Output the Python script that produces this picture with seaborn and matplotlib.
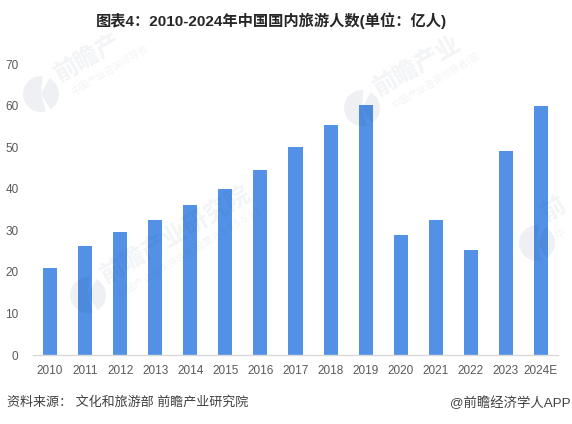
import matplotlib
matplotlib.use("Agg")
import matplotlib.pyplot as plt
import pandas as pd
import seaborn as sns
from matplotlib.patches import Wedge

years = ["2010", "2011", "2012", "2013", "2014", "2015", "2016", "2017",
         "2018", "2019", "2020", "2021", "2022", "2023", "2024E"]
visitors = [21.0, 26.2, 29.5, 32.5, 36.0, 40.0, 44.4, 50.0,
            55.4, 60.1, 28.8, 32.4, 25.3, 49.0, 60.0]
y_ticks = [0, 10, 20, 30, 40, 50, 60, 70]

title = "图表4：2010-2024年中国国内旅游人数(单位：亿人)"
source = "资料来源： 文化和旅游部 前瞻产业研究院"
credit = "@前瞻经济学人APP"

W, H = 572, 424
BAR = "#5291E6"
TICK = "#595959"
MARK = "#1F3864"
FONTS = ["Liberation Sans", "Noto Sans CJK SC"]

sns.set_theme(style="white")
plt.rcParams["font.family"] = FONTS

fig = plt.figure(figsize=(W / 100, H / 100), dpi=100, facecolor="white")

ax = fig.add_axes([32.5 / W, 1 - 355 / H, 526 / W, 291 / H], zorder=1)
df = pd.DataFrame({"year": years, "visitors": visitors})
sns.barplot(data=df, x="year", y="visitors", color=BAR, saturation=1, width=0.4,
            linewidth=0, ax=ax)

ax.set_ylim(0, 70)
ax.set_yticks(y_ticks)
ax.set_xlabel("")
ax.set_ylabel("")
sns.despine(ax=ax, left=True)
ax.spines["bottom"].set_color("#D9D9D9")
ax.spines["bottom"].set_linewidth(1)
ax.tick_params(axis="both", length=0, labelsize=8.5, labelcolor=TICK)
ax.tick_params(axis="x", pad=7)
ax.tick_params(axis="y", pad=10)

# watermark layer over the chart, in pixel coordinates
wm = fig.add_axes([0, 0, 1, 1], zorder=2)
wm.set_xlim(0, W)
wm.set_ylim(H, 0)
wm.axis("off")
wm.patch.set_alpha(0)


def add_watermark(logo, name_xy, name, sub_xy, sub):
    """Faint logo and company name, tilted like the original stamp."""
    for t1, t2 in [(75, 275), (-62, 58)]:
        wm.add_patch(Wedge(logo, 18, t1, t2, color=MARK, alpha=0.07, lw=0))
    wm.text(*name_xy, name, fontsize=17.5, color=MARK, alpha=0.06, rotation=30,
            rotation_mode="anchor", ha="left", va="center", fontweight="bold")
    wm.text(*sub_xy, sub, fontsize=7, color=MARK, alpha=0.06, rotation=31,
            rotation_mode="anchor", ha="left", va="center")


add_watermark((41, 94), (57, 76), "前瞻产", (72, 93), "中国产业咨询领导者")
add_watermark((362, 108), (376, 90), "前瞻产业", (392, 106), "中国产业咨询领导者(股")
add_watermark((88, 295), (102, 277), "前瞻产业研究院", (118, 295),
              "中国产业咨询领导者,股票 8 3 9 5 5 9 )")
add_watermark((537, 243), (544, 216), "前", (556, 237), "中")

fig.text(271 / W, 1 - 21 / H, title, fontsize=11, fontweight="bold", color="#262626",
         ha="center", va="center")
fig.text(7 / W, 1 - 403 / H, source, fontsize=9.4, color="#404040", ha="left", va="center")
fig.text(571 / W, 1 - 403 / H, credit, fontsize=9.6, color="#404040", ha="right", va="center")

fig.savefig("out.png", dpi=100)
